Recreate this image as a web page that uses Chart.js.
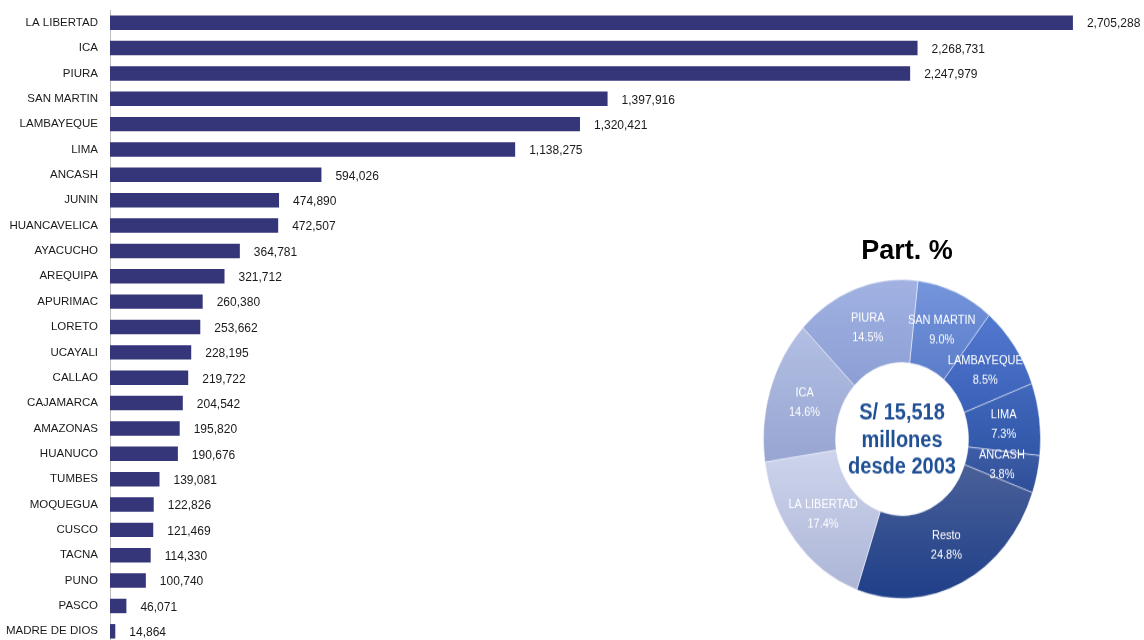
<!DOCTYPE html>
<html>
<head>
<meta charset="utf-8">
<script src="https://cdn.jsdelivr.net/npm/chart.js"></script>
<style>
  html, body { margin: 0; padding: 0; background: #fff; overflow: hidden; }
  #wrap { position: relative; width: 1144px; height: 640px; }
  #bars { position: absolute; left: 0; top: 0; }
  #pie { position: absolute; left: 763px; top: 279px; }
  #pieTitle { position: absolute; left: 807px; top: 235px; width: 200px; text-align: center;
              font: bold 27px 'Liberation Sans', Arial, sans-serif; color: #000; }
</style>
</head>
<body>
<div id="wrap">
  <canvas id="bars" width="1144" height="644"></canvas>
  <div id="pieTitle">Part. %</div>
  <canvas id="pie" width="278" height="278" style="width:278px;height:320px"></canvas>
</div>
<script>
// inversion por region (miles de soles)
const regions = ['LA LIBERTAD', 'ICA', 'PIURA', 'SAN MARTIN', 'LAMBAYEQUE', 'LIMA', 'ANCASH', 'JUNIN',
  'HUANCAVELICA', 'AYACUCHO', 'AREQUIPA', 'APURIMAC', 'LORETO', 'UCAYALI', 'CALLAO', 'CAJAMARCA',
  'AMAZONAS', 'HUANUCO', 'TUMBES', 'MOQUEGUA', 'CUSCO', 'TACNA', 'PUNO', 'PASCO', 'MADRE DE DIOS'];
const amounts = [2705288, 2268731, 2247979, 1397916, 1320421, 1138275, 594026, 474890,
  472507, 364781, 321712, 260380, 253662, 228195, 219722, 204542,
  195820, 190676, 139081, 122826, 121469, 114330, 100740, 46071, 14864];

// participacion %
const pieLabels = ['SAN MARTIN', 'LAMBAYEQUE', 'LIMA', 'ANCASH', 'Resto', 'LA LIBERTAD', 'ICA', 'PIURA'];
const pieShares = [9.0, 8.5, 7.3, 3.8, 24.8, 17.4, 14.6, 14.5];
const pieColors = ['#6a8bd4', '#4a70c6', '#3c61b5', '#3857a2', '#2b4a8e', '#c4cce6', '#a9b6dd', '#97a9da'];
// shading, lighter on top, darker below
const pieTop = ['#7596dc', '#5278cf', '#4268bc', '#3f5ea8', '#4a6098', '#cdd4ec', '#b3bfe3', '#a1b2e2'];
const pieBottom = ['#5b7cc9', '#3a60b8', '#3057a8', '#2e4d98', '#1f3f89', '#adb6d7', '#97a5d2', '#8c9fd5'];
const centerLines = ['S/ 15,518', 'millones', 'desde 2003'];

const FONT = "'Liberation Sans', Arial, sans-serif";

const valueLabels = {
  id: 'valueLabels',
  afterDatasetsDraw(chart) {
    const ctx = chart.ctx;
    const meta = chart.getDatasetMeta(0);
    ctx.save();
    ctx.font = '12px ' + FONT;
    ctx.fillStyle = '#1a1a1a';
    ctx.textAlign = 'left';
    ctx.textBaseline = 'middle';
    meta.data.forEach((bar, i) => {
      ctx.fillText(amounts[i].toLocaleString('en-US'), bar.x + 14, bar.y + 1.5);
    });
    ctx.restore();
  }
};

new Chart(document.getElementById('bars'), {
  type: 'bar',
  data: {
    labels: regions,
    datasets: [{
      data: amounts,
      backgroundColor: '#35357a',
      categoryPercentage: 1,
      barPercentage: 0.57
    }]
  },
  options: {
    indexAxis: 'y',
    responsive: false,
    animation: false,
    layout: { padding: { top: 10, right: 0, bottom: 0, left: 0 } },
    scales: {
      x: { display: false, min: 0, max: 2905000 },
      y: {
        grid: { display: false, drawTicks: false },
        border: { display: true, color: '#bfbfbf', width: 1 },
        ticks: { color: '#1a1a1a', font: { family: FONT, size: 11.5 }, padding: 12, autoSkip: false },
        afterFit(scale) {
          scale.width = 110;
          scale.paddingTop = 0;
          scale.paddingBottom = 0;
        }
      }
    },
    plugins: { legend: { display: false }, tooltip: { enabled: false } }
  },
  plugins: [valueLabels]
});

// vertical gradient on each slice, like the office-style fill
const sliceShading = {
  id: 'sliceShading',
  beforeDatasetsDraw(chart) {
    const ctx = chart.ctx;
    chart.getDatasetMeta(0).data.forEach((arc, i) => {
      const p = arc.getProps(['y', 'startAngle', 'endAngle', 'innerRadius', 'outerRadius'], true);
      let top = Infinity, bot = -Infinity;
      for (let k = 0; k <= 24; k++) {
        const a = p.startAngle + (p.endAngle - p.startAngle) * k / 24;
        [p.innerRadius, p.outerRadius].forEach(r => {
          const yy = p.y + r * Math.sin(a);
          top = Math.min(top, yy);
          bot = Math.max(bot, yy);
        });
      }
      const g = ctx.createLinearGradient(0, top, 0, bot);
      g.addColorStop(0, pieTop[i]);
      g.addColorStop(1, pieBottom[i]);
      arc.options.backgroundColor = g;
    });
  }
};

const sliceLabels = {
  id: 'sliceLabels',
  afterDatasetsDraw(chart) {
    const ctx = chart.ctx;
    const meta = chart.getDatasetMeta(0);
    ctx.save();
    ctx.font = '11px ' + FONT;
    ctx.fillStyle = '#ffffff';
    ctx.textAlign = 'center';
    ctx.textBaseline = 'middle';
    meta.data.forEach((arc, i) => {
      const p = arc.tooltipPosition();
      ctx.fillText(pieLabels[i], p.x, p.y - 8.5);
      ctx.fillText(pieShares[i].toFixed(1) + '%', p.x, p.y + 8.5);
    });
    ctx.restore();
  }
};

const centerText = {
  id: 'centerText',
  afterDraw(chart) {
    const ctx = chart.ctx;
    const arc = chart.getDatasetMeta(0).data[0];
    ctx.save();
    ctx.font = 'bold 20px ' + FONT;
    ctx.fillStyle = '#1f4f94';
    ctx.textAlign = 'center';
    ctx.textBaseline = 'middle';
    centerLines.forEach((t, i) => {
      ctx.fillText(t, arc.x, arc.y + 1 + (i - 1) * 23.5);
    });
    ctx.restore();
  }
};

new Chart(document.getElementById('pie'), {
  type: 'doughnut',
  data: {
    labels: pieLabels,
    datasets: [{
      data: pieShares,
      backgroundColor: pieColors,
      borderColor: 'rgba(255,255,255,0.45)',
      borderWidth: 1
    }]
  },
  options: {
    responsive: false,
    devicePixelRatio: 1,
    animation: false,
    cutout: '48%',
    rotation: 6.6,
    layout: { padding: 0 },
    plugins: { legend: { display: false }, tooltip: { enabled: false } }
  },
  plugins: [sliceShading, sliceLabels, centerText]
});
</script>
</body>
</html>
